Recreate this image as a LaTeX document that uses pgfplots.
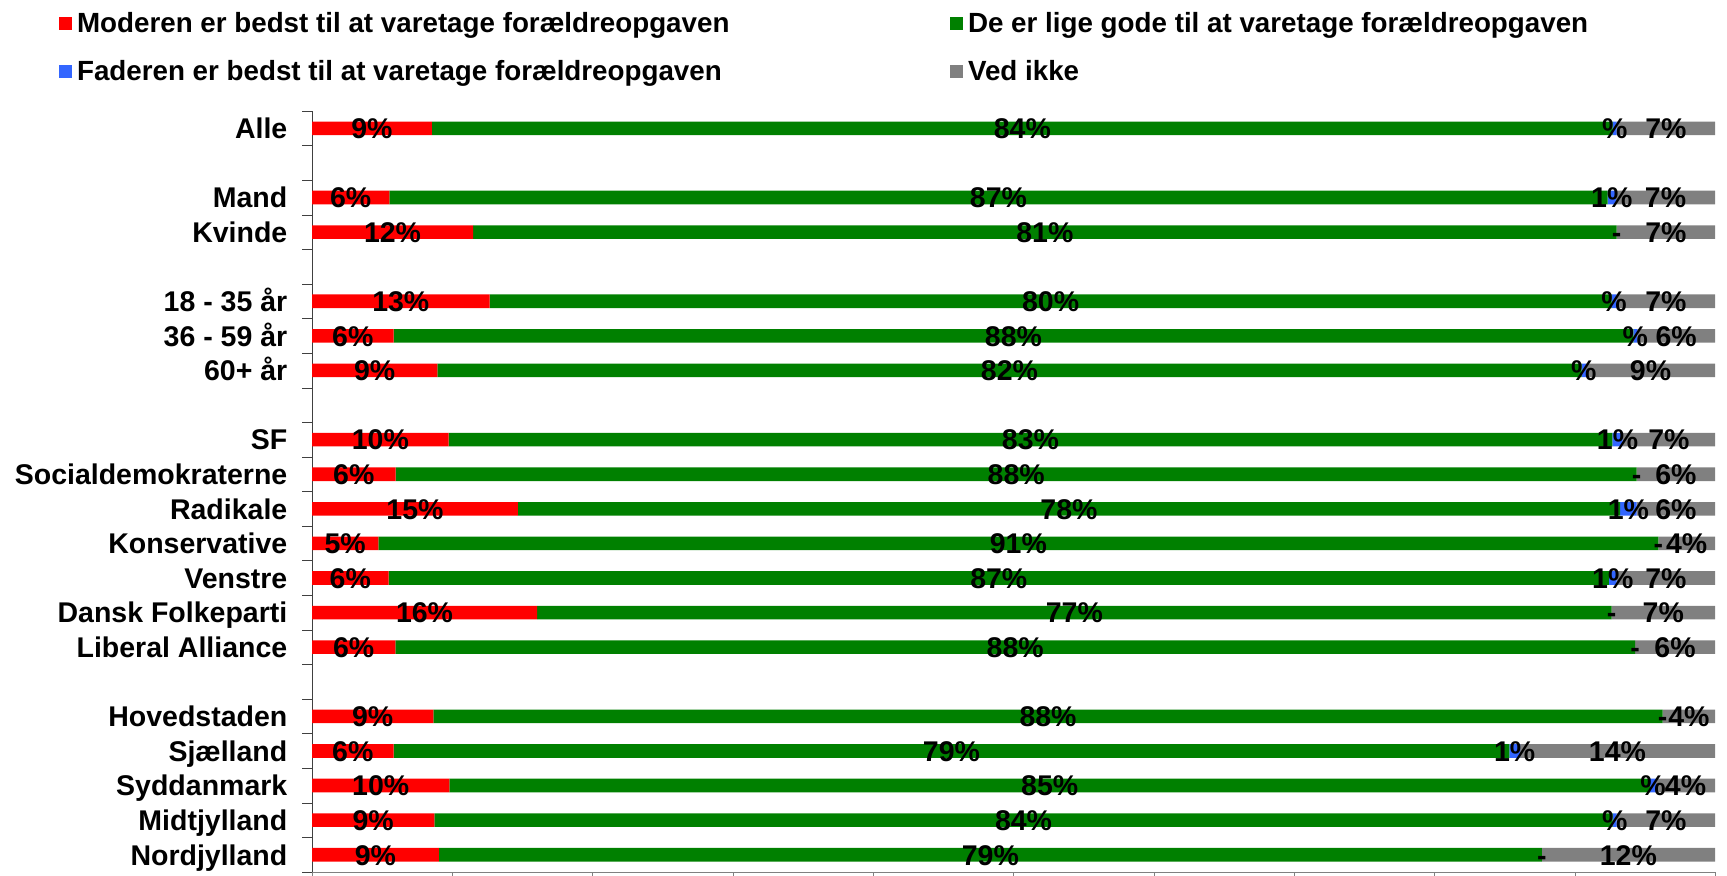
\documentclass[border=0pt]{standalone}
\usepackage{fontspec}
\setmainfont{Liberation Sans}
\usepackage{pgfplots}
\usepackage{pgfplotstable}
\pgfplotsset{compat=1.18}
\definecolor{cRed}{HTML}{FF0000}
\definecolor{cGreen}{HTML}{008000}
\definecolor{cBlue}{HTML}{3366FF}
\definecolor{cGray}{HTML}{808080}

\pgfplotstableread{
y  r     g     b    k     lr    lg    lb    lk
0  8.55  84.16 0.28 7.01  9\%   84\%  \%    7\%
2  5.51  86.84 0.59 7.06  6\%   87\%  1\%   7\%
3  11.48 81.51 0.00 7.01  12\%  81\%  -     7\%
5  12.66 79.97 0.36 7.01  13\%  80\%  \%    7\%
6  5.82  88.36 0.28 5.54  6\%   88\%  \%    6\%
7  8.93  81.57 0.31 9.19  9\%   82\%  \%    9\%
9  9.74  82.94 0.74 6.58  10\%  83\%  1\%   7\%
10 5.96  88.46 0.00 5.58  6\%   88\%  -     6\%
11 14.68 78.55 1.19 5.58  15\%  78\%  1\%   6\%
12 4.73  91.23 0.00 4.04  5\%   91\%  -     4\%
13 5.46  86.98 0.55 7.01  6\%   87\%  1\%   7\%
14 16.04 76.59 0.00 7.37  16\%  77\%  -     7\%
15 5.94  88.36 0.00 5.70  6\%   88\%  -     6\%
17 8.65  87.62 0.00 3.73  9\%   88\%  -     4\%
18 5.82  79.52 0.76 13.90 6\%   79\%  1\%   14\%
19 9.79  85.58 0.43 4.20  10\%  85\%  \%    4\%
20 8.72  83.99 0.28 7.01  9\%   84\%  \%    7\%
21 9.05  78.60 0.00 12.35 9\%   79\%  -     12\%
}\data

\newcommand{\chartfont}{\fontsize{14.25pt}{17pt}\selectfont\bfseries}
\newcommand{\legendfont}{\fontsize{13.88pt}{17pt}\selectfont\bfseries}

\begin{document}
\begin{tikzpicture}[font=\chartfont]
\path[use as bounding box] (0,0) rectangle (863.5pt,437.5pt);
\begin{axis}[
  at={(156pt,1.5pt)}, anchor=south west,
  scale only axis, width=701.5pt, height=380.5pt,
  font=\chartfont,
  xbar stacked, bar width=6.8pt,
  xmin=0, xmax=100, ymin=-0.5, ymax=21.5, y dir=reverse,
  axis x line*=bottom, axis y line*=left,
  axis line style={-},
  x axis line style={draw=cGray},
  y axis line style={draw=black!75},
  xtick={0,10,...,100}, xticklabels={},
  tick align=outside,
  major tick length=3pt,
  major x tick style={draw=cGray},
  ytick={0,2,3,5,6,7,9,10,11,12,13,14,15,17,18,19,20,21},
  yticklabels={Alle,Mand,Kvinde,18 - 35 år,36 - 59 år,60+ år,SF,Socialdemokraterne,Radikale,Konservative,Venstre,Dansk Folkeparti,Liberal Alliance,Hovedstaden,Sjælland,Syddanmark,Midtjylland,Nordjylland},
  major y tick style={draw=none},
  minor ytick={-0.5,0.5,...,21.5},
  minor tick length=5pt,
  minor y tick style={draw=black!75},
  yticklabel style={inner sep=0pt, text height=10.3pt, text depth=0pt, xshift=-9.15pt, font=\chartfont},
  legend columns=2,
  legend cell align=left,
  legend image code/.code={\fill[#1,draw=none] (0pt,-2.8pt) rectangle (6.5pt,3.7pt);},
  legend style={at={(-0.1803,1.1314)}, anchor=north west, draw=none, fill=none,
    inner sep=0pt, outer sep=0pt, row sep=10.5pt, font=\legendfont,
    nodes={inner sep=0pt, text height=10.5pt, text depth=3pt},
    /tikz/every odd column/.append style={column sep=2.5pt},
    /tikz/every even column/.append style={column sep=110.25pt}},
]
\addplot[fill=cRed, draw=none] table[x=r, y=y] {\data};
\addlegendentry{Moderen er bedst til at varetage forældreopgaven}
\addplot[fill=cGreen, draw=none] table[x=g, y=y] {\data};
\addlegendentry{De er lige gode til at varetage forældreopgaven}
\addplot[fill=cBlue, draw=none] table[x=b, y=y] {\data};
\addlegendentry{Faderen er bedst til at varetage forældreopgaven}
\addplot[fill=cGray, draw=none] table[x=k, y=y] {\data};
\addlegendentry{Ved ikke}
\end{axis}
\begin{axis}[
  at={(156pt,1.5pt)}, anchor=south west,
  scale only axis, width=701.5pt, height=380.5pt,
  xmin=0, xmax=100, ymin=-0.5, ymax=21.5, y dir=reverse,
  hide axis,
  nodes near coords, point meta=explicit symbolic,
  nodes near coords align={center},
  every node near coord/.append style={inner sep=0pt, text height=10.3pt, text depth=0pt, yshift=0pt, font=\chartfont, black},
]
\addplot[only marks, mark=*, mark size=0pt, mark options={draw=none,fill=none}] table[x expr={\thisrow{r}/2}, y=y, meta=lr] {\data};
\addplot[only marks, mark=*, mark size=0pt, mark options={draw=none,fill=none}] table[x expr={\thisrow{r}+\thisrow{g}/2}, y=y, meta=lg] {\data};
\addplot[only marks, mark=*, mark size=0pt, mark options={draw=none,fill=none}] table[x expr={\thisrow{r}+\thisrow{g}+\thisrow{b}/2}, y=y, meta=lb] {\data};
\addplot[only marks, mark=*, mark size=0pt, mark options={draw=none,fill=none}] table[x expr={\thisrow{r}+\thisrow{g}+\thisrow{b}+\thisrow{k}/2}, y=y, meta=lk] {\data};
\end{axis}
\end{tikzpicture}
\end{document}
